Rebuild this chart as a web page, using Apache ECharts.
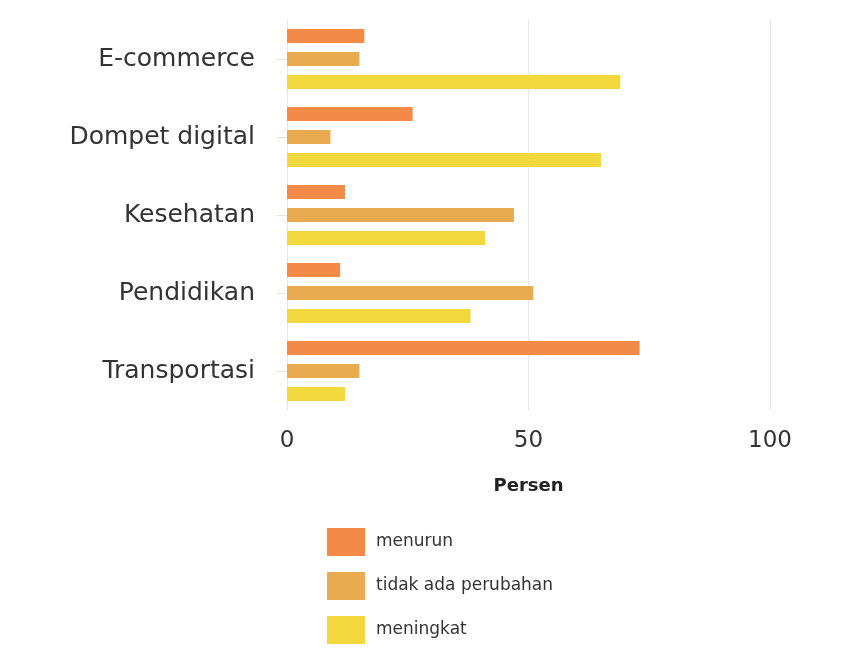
<!DOCTYPE html>
<html>
<head>
<meta charset="utf-8">
<script src="https://cdn.jsdelivr.net/npm/echarts@6/dist/echarts.min.js"></script>
<style>
  html, body { margin: 0; padding: 0; background: #fff; }
  #chart { width: 858px; height: 662px; }
</style>
</head>
<body>
<div id="chart"></div>
<script>
// data
var categories = ['E-commerce', 'Dompet digital', 'Kesehatan', 'Pendidikan', 'Transportasi'];
var menurun = [16, 26, 12, 11, 73];
var tidakAda = [15, 9, 47, 51, 15];
var meningkat = [69, 65, 41, 38, 12];
var xTicks = [0, 50, 100];

var font = 'DejaVu Sans';

var chart = echarts.init(document.getElementById('chart'), null, {
  renderer: 'canvas'
});

var option = {
  backgroundColor: '#fff',
  animation: false,
  color: ['#f38a47', '#e9ab4f', '#f2d83d'],
  grid: {
    left: 287,
    right: 88,
    top: 20,
    height: 390
  },
  legend: {
    orient: 'vertical',
    left: 322,
    top: 523,
    itemWidth: 38,
    itemHeight: 28,
    itemGap: 16,
    icon: 'rect',
    textStyle: {
      fontFamily: font,
      fontSize: 17,
      color: '#333',
      padding: [0, 0, 0, 6]
    },
    data: ['menurun', 'tidak ada perubahan', 'meningkat']
  },
  xAxis: {
    type: 'value',
    min: xTicks[0],
    max: xTicks[xTicks.length - 1],
    interval: 50,
    name: 'Persen',
    nameLocation: 'middle',
    nameGap: 67,
    nameTextStyle: {
      fontFamily: font,
      fontSize: 18,
      fontWeight: 'bold',
      color: '#222'
    },
    axisLine: { show: false },
    axisTick: { show: false },
    axisLabel: {
      fontFamily: font,
      fontSize: 23,
      color: '#333',
      margin: 20
    },
    splitLine: {
      lineStyle: { color: '#e6e6e6', width: 1 }
    }
  },
  yAxis: {
    type: 'category',
    inverse: true,
    data: categories,
    axisLine: { show: false },
    axisTick: {
      show: true,
      alignWithLabel: true,
      length: 10,
      lineStyle: { color: '#e4e4e4' }
    },
    axisLabel: {
      fontFamily: font,
      fontSize: 25,
      color: '#333',
      margin: 32
    }
  },
  series: [
    {
      name: 'menurun',
      type: 'bar',
      barWidth: 14,
      barGap: '64%',
      data: menurun
    },
    {
      name: 'tidak ada perubahan',
      type: 'bar',
      barWidth: 14,
      barGap: '64%',
      data: tidakAda
    },
    {
      name: 'meningkat',
      type: 'bar',
      barWidth: 14,
      barGap: '64%',
      data: meningkat
    }
  ]
};

chart.setOption(option);
</script>
</body>
</html>
